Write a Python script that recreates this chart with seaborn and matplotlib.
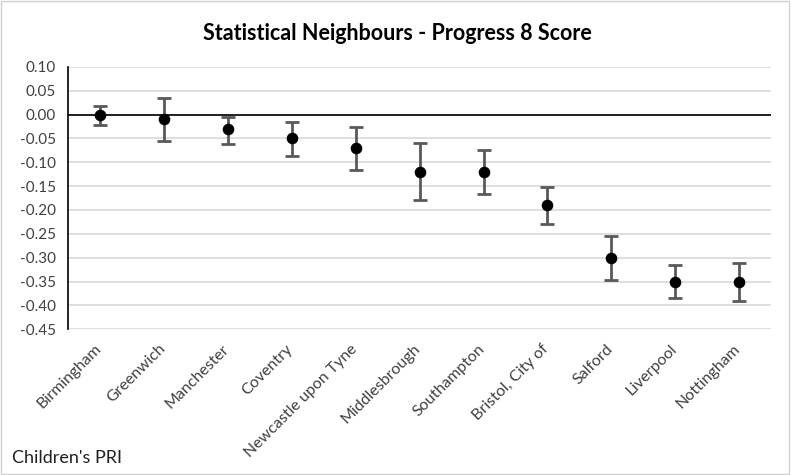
import matplotlib
matplotlib.use("Agg")
import matplotlib.pyplot as plt
import matplotlib.transforms as mtransforms
from matplotlib.patches import Rectangle
import seaborn as sns
import pandas as pd

# Progress 8 scores with upper / lower confidence limits
areas = ["Birmingham", "Greenwich", "Manchester", "Coventry", "Newcastle upon Tyne",
         "Middlesbrough", "Southampton", "Bristol, City of", "Salford", "Liverpool",
         "Nottingham"]
scores = [0.00, -0.01, -0.03, -0.05, -0.07, -0.12, -0.12, -0.19, -0.30, -0.35, -0.35]
upper = [0.018, 0.035, -0.004, -0.016, -0.026, -0.060, -0.075, -0.151, -0.254, -0.315, -0.311]
lower = [-0.022, -0.056, -0.062, -0.086, -0.116, -0.180, -0.167, -0.230, -0.346, -0.384, -0.390]
y_ticks = [0.10, 0.05, 0.00, -0.05, -0.10, -0.15, -0.20, -0.25, -0.30, -0.35, -0.40, -0.45]

df = pd.DataFrame({"area": areas, "score": scores, "upper": upper, "lower": lower})

sns.set_theme(style="white")
plt.rcParams["font.family"] = ["Lato", "DejaVu Sans"]

fig = plt.figure(figsize=(7.91, 4.75), dpi=100)
ax = fig.add_axes([0.086, 0.307, 0.889, 0.552])

pos = list(range(len(df)))
ax.errorbar(pos, df["score"],
            yerr=[df["score"] - df["lower"], df["upper"] - df["score"]],
            fmt="none", ecolor="#595959", elinewidth=2.0, capsize=5, capthick=2.0,
            zorder=3)
sns.scatterplot(data=df, x="area", y="score", ax=ax, color="black", s=70,
                edgecolor="black", linewidth=0, zorder=4, legend=False)

ax.set_xlim(-0.5, len(df) - 0.5)
ax.set_ylim(-0.45, 0.10)
ax.set_yticks(y_ticks)
ax.set_yticklabels([f"{v:.2f}" for v in y_ticks])
ax.yaxis.grid(True, color="#d9d9d9", linewidth=1.2)
ax.set_axisbelow(True)
ax.axhline(0, color="black", linewidth=1.2, zorder=2)

ax.set_xticks(pos)
ax.set_xticklabels(areas, rotation=45, ha="right", rotation_mode="anchor")
ax.tick_params(axis="x", length=0, labelsize=11.5, colors="#404040", pad=9)
ax.tick_params(axis="y", length=0, labelsize=11, colors="#404040", pad=9)
shift = mtransforms.ScaledTranslation(-6 / 100, 0, fig.dpi_scale_trans)
for lbl in ax.get_xticklabels():
    lbl.set_transform(lbl.get_transform() + shift)
ax.set_xlabel("")
ax.set_ylabel("")

for side in ["top", "right", "bottom"]:
    ax.spines[side].set_visible(False)
ax.spines["left"].set_color("black")
ax.spines["left"].set_linewidth(1.2)

fig.text(0.503, 0.93, "Statistical Neighbours - Progress 8 Score", ha="center",
         va="center", fontsize=15.5, fontweight="bold", color="black")
fig.text(0.015, 0.035, "Children's PRI", ha="left", va="center", fontsize=13,
         color="#202020")

fig.patches.append(Rectangle((0.001, 0.002), 0.997, 0.995, transform=fig.transFigure,
                             fill=False, edgecolor="#d0d0d0", linewidth=1.0))

fig.savefig("out.png", dpi=100, facecolor="white")
